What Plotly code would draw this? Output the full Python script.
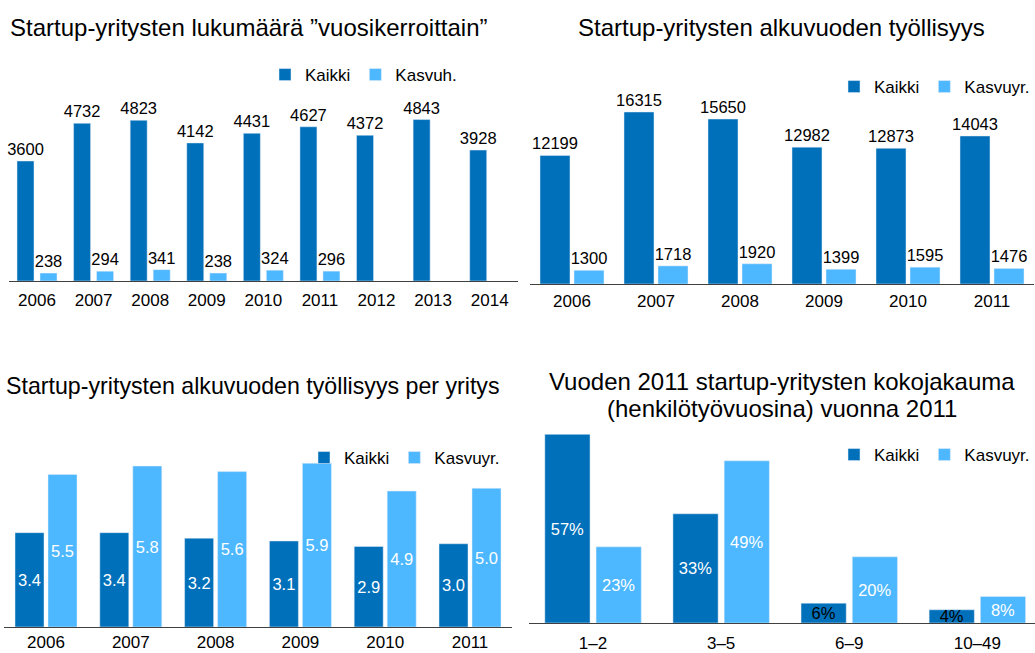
import plotly.graph_objects as go

W, H = 1035, 653

years1 = ["2006", "2007", "2008", "2009", "2010", "2011", "2012", "2013", "2014"]
kaikki1 = [3600, 4732, 4823, 4142, 4431, 4627, 4372, 4843, 3928]
kasvu1 = [238, 294, 341, 238, 324, 296, None, None, None]

years2 = ["2006", "2007", "2008", "2009", "2010", "2011"]
kaikki2 = [12199, 16315, 15650, 12982, 12873, 14043]
kasvu2 = [1300, 1718, 1920, 1399, 1595, 1476]

years3 = ["2006", "2007", "2008", "2009", "2010", "2011"]
kaikki3 = [3.4, 3.4, 3.2, 3.1, 2.9, 3.0]
kasvu3 = [5.5, 5.8, 5.6, 5.9, 4.9, 5.0]

sizes4 = ["1–2", "3–5", "6–9", "10–49"]
kaikki4 = [57, 33, 6, 4]
kasvu4 = [23, 49, 20, 8]

titles = [
    ["Startup-yritysten lukumäärä ”vuosikerroittain”"],
    ["Startup-yritysten alkuvuoden työllisyys"],
    ["Startup-yritysten alkuvuoden työllisyys per yritys"],
    ["Vuoden 2011 startup-yritysten kokojakauma", "(henkilötyövuosina) vuonna 2011"],
]

DARK = "#0070BA"
LIGHT = "#4DB8FF"
FONT = "Liberation Sans, Arial, sans-serif"
FS = 17
FS_LBL = 16.5


def px(x):
    return x / W


def py(y):
    return 1 - y / H


def pair(x, a, b, name_b, ax, leg, w, g, text_a, text_b):
    """Two bars per category, width w and gap g as fraction of category."""
    fig.add_trace(go.Bar(x=x, y=a, name="Kaikki", marker_color=DARK,
                         width=w, offset=-(w + g / 2),
                         xaxis="x" + ax, yaxis="y" + ax, legend=leg, **text_a))
    fig.add_trace(go.Bar(x=x, y=b, name=name_b, marker_color=LIGHT,
                         width=w, offset=g / 2,
                         xaxis="x" + ax, yaxis="y" + ax, legend=leg, **text_b))


fig = go.Figure()


def out_txt(vals):
    return dict(text=["" if v is None else str(v) for v in vals],
                textposition="outside", cliponaxis=False, constraintext="none",
                textfont=dict(color="black", size=FS_LBL))


def in_txt(tmpl, colors):
    return dict(texttemplate=tmpl, textposition="inside", insidetextanchor="middle",
                textangle=0, constraintext="none",
                textfont=dict(color=colors, size=FS_LBL))


pair(years1, kaikki1, kasvu1, "Kasvuh.", "", "legend", 17 / 56.6, 6 / 56.6,
     out_txt(kaikki1), out_txt(kasvu1))
pair(years2, kaikki2, kasvu2, "Kasvuyr.", "2", "legend2", 30 / 84, 4 / 84,
     out_txt(kaikki2), out_txt(kasvu2))
pair(years3, kaikki3, kasvu3, "Kasvuyr.", "3", "legend3", 29 / 84.8, 4 / 84.8,
     in_txt("%{y:.1f}", "white"), in_txt("%{y:.1f}", "white"))
pair(sizes4, kaikki4, kasvu4, "Kasvuyr.", "4", "legend4", 45 / 127.5, 6 / 127.5,
     in_txt("%{y}%", ["white", "white", "black", "black"]), in_txt("%{y}%", "white"))

axis_common = dict(showgrid=False, zeroline=False, showline=True, linecolor="#404040",
                   linewidth=1, ticks="", tickfont=dict(size=FS, color="black"),
                   fixedrange=True, type="category")
yaxis_common = dict(visible=False, showgrid=False, zeroline=False, fixedrange=True)

legend_common = dict(orientation="h", font=dict(size=FS, color="black"),
                     bgcolor="rgba(0,0,0,0)", itemwidth=30, tracegroupgap=0,
                     xanchor="right", yanchor="middle", itemclick=False)

fig.update_layout(
    width=W, height=H,
    margin=dict(l=0, r=0, t=0, b=0),
    paper_bgcolor="white", plot_bgcolor="white",
    font=dict(family=FONT, size=FS, color="black"),
    barmode="overlay",
    xaxis=dict(domain=[px(8.7), px(518)], range=[-0.5, 8.5], anchor="y",
               ticklabelstandoff=4, **axis_common),
    yaxis=dict(domain=[py(281), py(281 - 5500 * 120 / 3600)], range=[0, 5500],
               anchor="x", **yaxis_common),
    xaxis2=dict(domain=[px(530), px(1034)], range=[-0.5, 5.5], anchor="y2",
                ticklabelstandoff=2, **axis_common),
    yaxis2=dict(domain=[py(284), py(284 - 18000 * 172 / 16315)], range=[0, 18000],
                anchor="x2", **yaxis_common),
    xaxis3=dict(domain=[px(3.6), px(512.4)], range=[-0.5, 5.5], anchor="y3",
                **axis_common),
    yaxis3=dict(domain=[py(627), py(627 - 6.5 * 27.75)], range=[0, 6.5],
                anchor="x3", **yaxis_common),
    xaxis4=dict(domain=[px(529), px(1035)], range=[-0.5, 3.45], anchor="y4",
                ticklabelstandoff=5, **axis_common),
    yaxis4=dict(domain=[py(623), py(623 - 60 * 3.31)], range=[0, 60],
                anchor="x4", **yaxis_common),
    legend=dict(x=px(462), y=py(75), **legend_common),
    legend2=dict(x=px(1035), y=py(87), **legend_common),
    legend3=dict(x=px(505), y=py(458), **legend_common),
    legend4=dict(x=px(1035), y=py(455), **legend_common),
    showlegend=True,
)

title_pos = [[(249, 28)], [(781.5, 28)], [(252.5, 386)], [(782, 381), (782, 408)]]
title_sizes = [24, 24, 23.2, 24]
for lines, poss, fs in zip(titles, title_pos, title_sizes):
    for t, (x, y) in zip(lines, poss):
        fig.add_annotation(text=t, x=px(x), y=py(y), xref="paper", yref="paper",
                           showarrow=False, xanchor="center", yanchor="middle",
                           font=dict(size=fs, color="black", family=FONT))

fig.write_html("out.html", config={"displayModeBar": False},
               post_script="document.body.style.margin='0';")
